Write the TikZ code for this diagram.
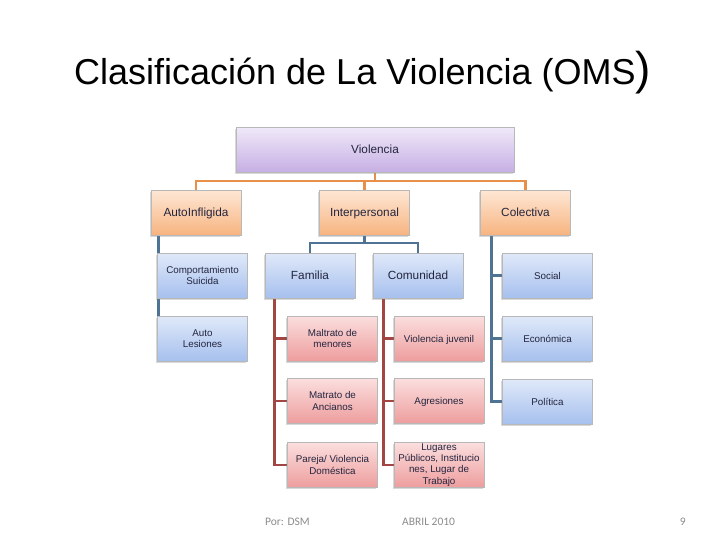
\documentclass[tikz,border=0pt]{standalone}
\usepackage{fontspec}
\setmainfont{Liberation Sans}
\newfontfamily\footfont{Carlito}
\usetikzlibrary{shadows,backgrounds}
\definecolor{txt}{HTML}{23253F}
\definecolor{vtop}{HTML}{F0E9F9}
\definecolor{vbot}{HTML}{C6AFE4}
\definecolor{otop}{HTML}{FEE7D5}
\definecolor{obot}{HTML}{F7B480}
\definecolor{btop}{HTML}{E0E9F9}
\definecolor{bbot}{HTML}{A6C0EE}
\definecolor{rtop}{HTML}{FBDEDE}
\definecolor{rbot}{HTML}{EE9D9D}
\definecolor{oline}{HTML}{E8904A}
\definecolor{bline}{HTML}{4E7394}
\definecolor{rline}{HTML}{A24644}
\definecolor{foot}{HTML}{8C8C8C}
\begin{document}
\begin{tikzpicture}[x=1pt,y=-1pt,
  box/.style={rectangle, draw=black!28, line width=0.6pt, inner sep=1pt, align=center, text=txt,
    drop shadow={shadow xshift=-1.2pt, shadow yshift=-1.5pt, opacity=0.3}},
  bigf/.style={font=\fontsize{11.8}{14}\selectfont},
  smallf/.style={font=\fontsize{9.8}{11.2}\selectfont},
  one/.style={text height=1.6ex, text depth=0.2ex},
  vbox/.style={box, bigf, one, top color=vtop, bottom color=vbot, minimum width=278pt, minimum height=45pt},
  obox/.style={box, bigf, one, top color=otop, bottom color=obot, minimum width=90pt, minimum height=45pt},
  bbox/.style={box, top color=btop, bottom color=bbot, minimum width=90pt, minimum height=45pt},
  rbox/.style={box, smallf, top color=rtop, bottom color=rbot, minimum width=90pt, minimum height=45pt},
  oconn/.style={draw=oline, line width=2.4pt},
  bconn/.style={draw=bline, line width=2.6pt},
  rconn/.style={draw=rline, line width=2.6pt}
]
\useasboundingbox (0,0) rectangle (728,546);

% title
\node[anchor=base west, inner sep=0pt, font=\fontsize{36}{40}\selectfont] (title) at (74,84)
  {Clasificación de La Violencia (OMS\fontsize{46}{50}\selectfont)};

% level 0
\node[vbox] (viol) at (375,149.5) {Violencia};

% level 1
\node[obox] (auto) at (196,212.5) {AutoInfligida};
\node[obox] (inter) at (364.5,212.5) {Interpersonal};
\node[obox] (colec) at (525.5,212.5) {Colectiva};

% level 2
\node[bbox, smallf] (comp) at (202.5,275.5) {Comportamiento\\Suicida};
\node[bbox, smallf] (autol) at (202.5,338.5) {Auto\\Lesiones};
\node[bbox, bigf, one] (fam) at (310,275.5) {Familia};
\node[bbox, bigf, one] (comu) at (418,275.5) {Comunidad};
\node[bbox, smallf, one] (social) at (547.5,275.5) {Social};
\node[bbox, smallf, one] (econ) at (547.5,338.5) {Económica};
\node[bbox, smallf, one] (polit) at (547.5,401.5) {Política};

% level 3
\node[rbox] (maltm) at (332.5,338.5) {Maltrato de\\menores};
\node[rbox] (matan) at (332.5,401) {Matrato de\\Ancianos};
\node[rbox] (pareja) at (332.5,465) {Pareja/ Violencia\\Doméstica};
\node[rbox, one] (viojuv) at (439,338.5) {Violencia juvenil};
\node[rbox, one] (agres) at (439,401) {Agresiones};
\node[rbox] (lugar) at (439,465) {Lugares\\Públicos, Institucio\\nes, Lugar de\\Trabajo};

% footer
\node[anchor=base west, inner sep=0pt, text=foot, font=\footfont\fontsize{11.5}{13}\selectfont] (por) at (265,525) {Por: DSM};
\node[anchor=base west, inner sep=0pt, text=foot, font=\footfont\fontsize{11.5}{13}\selectfont] (fecha) at (402,525) {ABRIL 2010};
\node[anchor=base east, inner sep=0pt, text=foot, font=\footfont\fontsize{11.5}{13}\selectfont] (num) at (686,525) {9};

\begin{pgfonlayer}{background}
\fill[white] (0,0) rectangle (728,546);
% orange level
\coordinate (obus) at (375,181);
\draw[oconn] (viol.south) -- (obus);
\draw[oconn] (auto.north) |- (obus) -| (colec.north);
\draw[oconn] (inter.north) -- (inter.north |- obus);
% interpersonal
\coordinate (ibus) at (364.5,243);
\draw[bconn] (inter.south) -- (ibus);
\draw[bconn] (fam.north) |- (ibus) -| (comu.north);
% autoinfligida
\coordinate (atop) at (auto.south -| comp.west);
\draw[bconn] ([xshift=1.5pt]atop) -- ([xshift=1.5pt]autol.west);
% colectiva
\coordinate (ctop) at (colec.south -| social.west);
\draw[bconn] ([xshift=-11pt]ctop) |- (social.west);
\draw[bconn] ([xshift=-11pt]ctop) |- (econ.west);
\draw[bconn] ([xshift=-11pt]ctop) |- (polit.west);
% familia
\draw[rconn] ([xshift=10pt]fam.south west) |- (maltm.west);
\draw[rconn] ([xshift=10pt]fam.south west) |- (matan.west);
\draw[rconn] ([xshift=10pt]fam.south west) |- (pareja.west);
% comunidad
\draw[rconn] ([xshift=11pt]comu.south west) |- (viojuv.west);
\draw[rconn] ([xshift=11pt]comu.south west) |- (agres.west);
\draw[rconn] ([xshift=11pt]comu.south west) |- (lugar.west);
\end{pgfonlayer}
\end{tikzpicture}
\end{document}
